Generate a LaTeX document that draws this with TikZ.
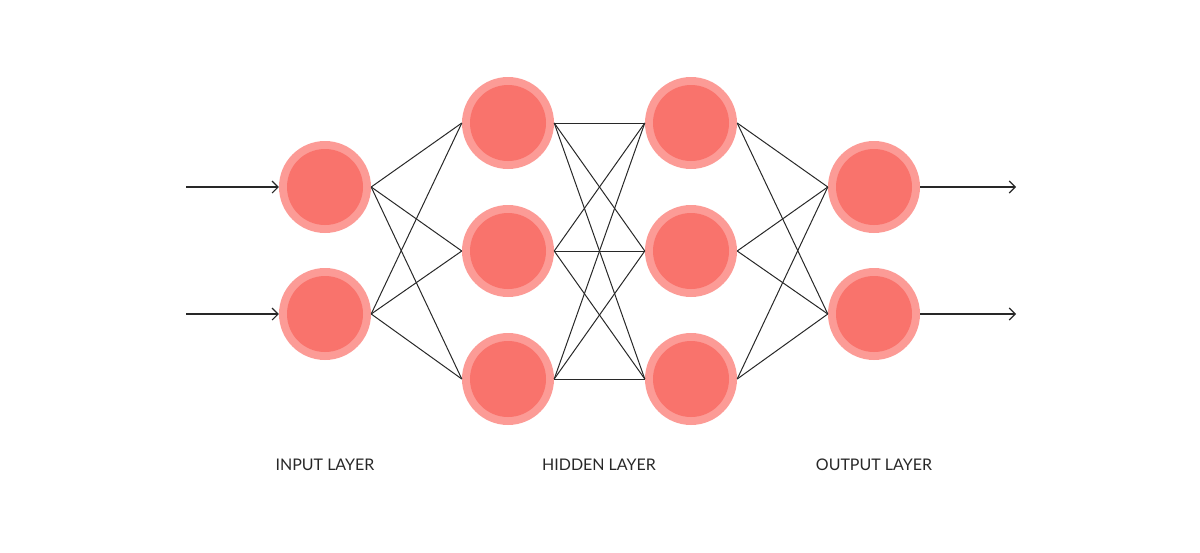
\documentclass[tikz,border=0pt]{standalone}
\usepackage{fontspec}
\setmainfont{Lato}
\usetikzlibrary{arrows.meta}
\definecolor{outerc}{RGB}{252,155,150}
\definecolor{innerc}{RGB}{249,115,108}
\definecolor{linec}{RGB}{40,40,40}
\definecolor{textc}{RGB}{40,40,40}
\begin{document}
\begin{tikzpicture}[x=1pt,y=-1pt,
  neuron/.style={circle,fill=outerc,minimum size=92pt,inner sep=0pt,
    path picture={\fill[innerc] (path picture bounding box.center) circle (38pt);}},
  conn/.style={draw=linec,line width=1pt},
  arr/.style={draw=linec,line width=1.1pt,-{Straight Barb[length=6pt,width=12pt,line width=1.1pt]}},
  lab/.style={text=textc,font=\fontsize{16}{19}\selectfont}]
\useasboundingbox (0,0) rectangle (1200,552);
\node[neuron] (i1) at (325,187) {};
\node[neuron] (i2) at (325,314) {};
\node[neuron] (a1) at (508,123) {};
\node[neuron] (a2) at (508,251) {};
\node[neuron] (a3) at (508,379) {};
\node[neuron] (b1) at (691,123) {};
\node[neuron] (b2) at (691,251) {};
\node[neuron] (b3) at (691,379) {};
\node[neuron] (o1) at (874,187) {};
\node[neuron] (o2) at (874,314) {};
\coordinate (s1) at (186,187);
\coordinate (s2) at (186,314);
\coordinate (e1) at (1016,187);
\coordinate (e2) at (1016,314);
\draw[arr] (s1) -- (i1.west);
\draw[arr] (s2) -- (i2.west);
\draw[arr] (o1.east) -- (e1);
\draw[arr] (o2.east) -- (e2);
\foreach \s in {i1,i2}{\foreach \t in {a1,a2,a3}{\draw[conn] (\s.east) -- (\t.west);}}
\foreach \s in {a1,a2,a3}{\foreach \t in {b1,b2,b3}{\draw[conn] (\s.east) -- (\t.west);}}
\foreach \s in {b1,b2,b3}{\foreach \t in {o1,o2}{\draw[conn] (\s.east) -- (\t.west);}}
\node[lab] (l1) at (325,465) {INPUT LAYER};
\node[lab] (l2) at (599,465) {HIDDEN LAYER};
\node[lab] (l3) at (874,465) {OUTPUT LAYER};
\end{tikzpicture}
\end{document}
